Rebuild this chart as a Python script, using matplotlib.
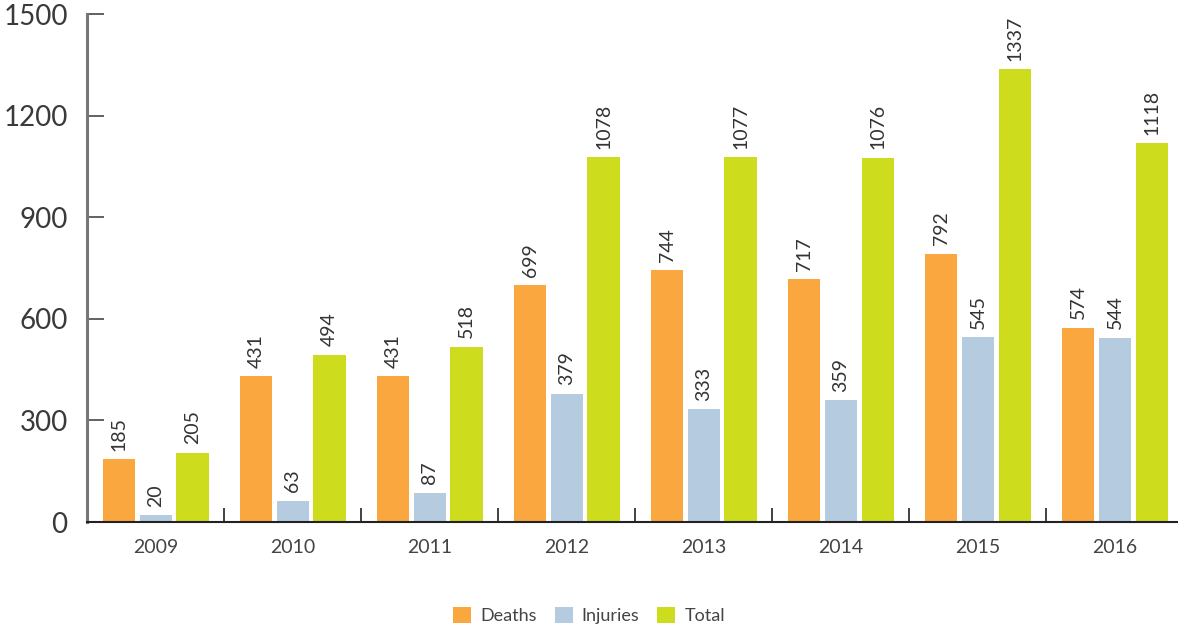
import numpy as np
import matplotlib.pyplot as plt
from matplotlib.ticker import FixedLocator

years = ["2009", "2010", "2011", "2012", "2013", "2014", "2015", "2016"]
deaths = [185, 431, 431, 699, 744, 717, 792, 574]
injuries = [20, 63, 87, 379, 333, 359, 545, 544]
total = [205, 494, 518, 1078, 1077, 1076, 1337, 1118]

series = [("Deaths", deaths, "#F9A73E"),
          ("Injuries", injuries, "#B5CCE0"),
          ("Total", total, "#CDDC1C")]

plt.rcParams['font.family'] = ['Lato', 'DejaVu Sans']

fig = plt.figure(figsize=(11.78, 6.37), dpi=100)
ax = fig.add_axes([0.074, 0.1805, 0.926, 0.7975])

x = np.arange(len(years))
width = 0.235
offsets = [-0.268, 0.0, 0.268]

for (name, vals, col), off in zip(series, offsets):
    bars = ax.bar(x + off, vals, width, color=col, label=name)
    # value labels above each bar, rotated
    for b, v in zip(bars, vals):
        ax.annotate(str(v), (b.get_x() + b.get_width() / 2, b.get_height()),
                    xytext=(0, 6), textcoords="offset points",
                    ha="center", va="bottom", rotation=90,
                    fontsize=14, color="#333333")

ax.set_xlim(-0.5, 7.46)
ax.set_ylim(0, 1500)
ax.set_yticks([0, 300, 600, 900, 1200, 1500])
ax.set_xticks(x)
ax.set_xticklabels(years)
ax.xaxis.set_minor_locator(FixedLocator(np.arange(0.5, 7, 1.0)))

ax.tick_params(axis="y", direction="in", length=12, width=1.3, color="#555555",
               labelsize=20, labelcolor="#3a3a3a", pad=14)
ax.tick_params(axis="x", which="major", length=0, labelsize=14,
               labelcolor="#444444", pad=12)
ax.tick_params(axis="x", which="minor", direction="in", length=10, width=1.3,
               color="#333333")

for s in ["top", "right"]:
    ax.spines[s].set_visible(False)
ax.spines["left"].set_color("#777777")
ax.spines["left"].set_linewidth(2.2)
ax.spines["bottom"].set_color("#222222")
ax.spines["bottom"].set_linewidth(1.5)

fig.legend(loc="lower center", bbox_to_anchor=(0.5, -0.005), ncol=3,
           frameon=False, fontsize=13, handlelength=1.0, handleheight=1.0,
           handletextpad=0.5, columnspacing=1.0, labelcolor="#444444")

plt.savefig("out.png")
